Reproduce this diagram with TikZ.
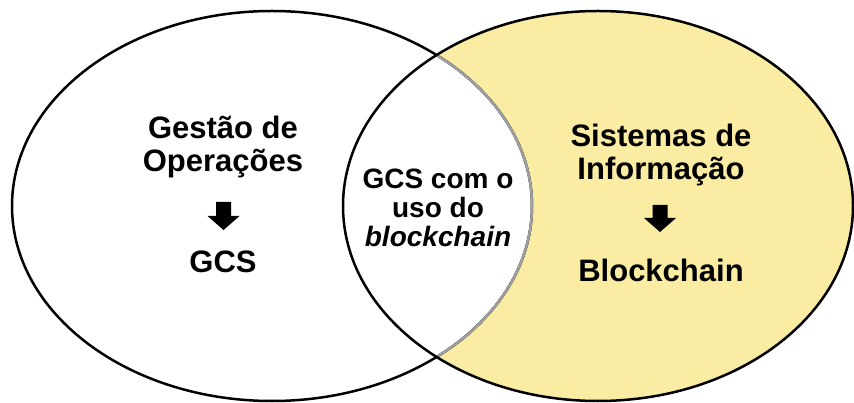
\documentclass[tikz,border=0pt]{standalone}
\usepackage{fontspec}
\setmainfont{Liberation Sans}
\definecolor{vennyellow}{RGB}{250,236,162}
\tikzset{
  setlabel/.style={font=\bfseries\fontsize{31}{33}\selectfont, align=center, anchor=base},
  lenslabel/.style={font=\bfseries\fontsize{28}{29}\selectfont, align=center, anchor=base},
  setborder/.style={line width=2.5pt},
}

\begin{document}
\begin{tikzpicture}[x=1pt,y=-1pt]
        \useasboundingbox (0,0) rectangle (854,403);

        % sets
        \fill[vennyellow] (598,206) ellipse [x radius=255pt, y radius=195pt];
        \begin{scope}
            \clip (272,206) ellipse [x radius=260pt, y radius=195pt];
            \fill[white] (598,206) ellipse [x radius=255pt, y radius=195pt];
        \end{scope}
        \draw[setborder] (272,206) ellipse [x radius=260pt, y radius=195pt];
        \begin{scope}
            \clip (598,206) ellipse [x radius=255pt, y radius=195pt];
            \draw[setborder, gray!75] (272,206) ellipse [x radius=260pt, y radius=195pt];
        \end{scope}
        \draw[setborder] (598,206) ellipse [x radius=255pt, y radius=195pt];

        % labels (base = last line)
        \node[setlabel] (ops) at (223,172) {Gestão de\\Operações};
        \node[setlabel] (gcs) at (223,273) {GCS};
        \node[lenslabel] (lens) at (438,247) {GCS com o\\uso do\\\textit{blockchain}};
        \node[setlabel] (sis) at (661,180) {Sistemas de\\Informação};
        \node[setlabel] (bc) at (661,282) {Blockchain};

        % arrows
        \fill[shift={(223.5,202)}] (-7.5,0) -- (7.5,0) -- (7.5,14) -- (16,14) -- (0,28) -- (-16,14) -- (-7.5,14) -- cycle;
        \fill[shift={(660,205)}] (-7.5,0) -- (7.5,0) -- (7.5,13) -- (16,13) -- (0,27) -- (-16,13) -- (-7.5,13) -- cycle;
    \end{tikzpicture}
\end{document}
